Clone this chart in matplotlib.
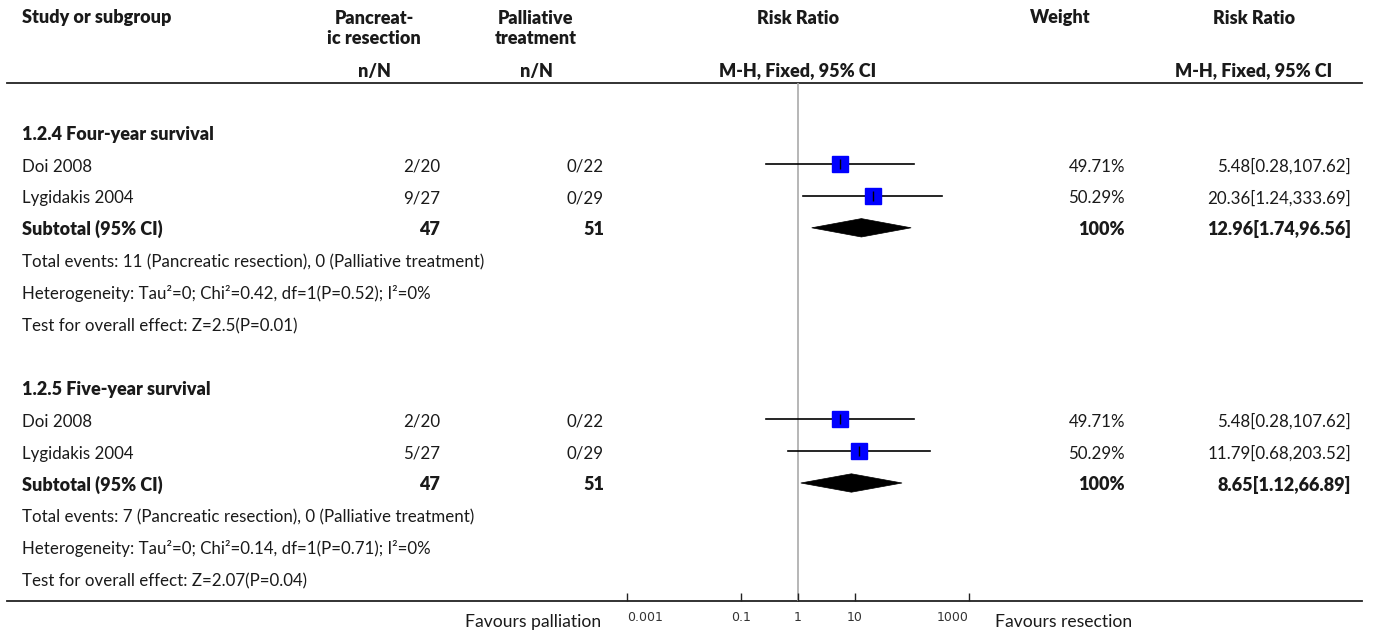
import matplotlib
matplotlib.use("Agg")
import matplotlib.pyplot as plt
from matplotlib.patches import Polygon

plt.rcParams['font.family'] = ['Lato', 'DejaVu Sans']

# ---------------- data ----------------
groups = ["1.2.4 Four-year survival", "1.2.5 Five-year survival"]
studies = [["Doi 2008", "Lygidakis 2004"], ["Doi 2008", "Lygidakis 2004"]]
resection = [["2/20", "9/27"], ["2/20", "5/27"]]
palliative = [["0/22", "0/29"], ["0/22", "0/29"]]
rr = [[5.48, 20.36], [5.48, 11.79]]
rr_lo = [[0.28, 1.24], [0.28, 0.68]]
rr_hi = [[107.62, 333.69], [107.62, 203.52]]
weights = [[49.71, 50.29], [49.71, 50.29]]
sub_n_res = ["47", "47"]
sub_n_pal = ["51", "51"]
sub_rr = [12.96, 8.65]
sub_lo = [1.74, 1.12]
sub_hi = [96.56, 66.89]
sub_weight = ["100%", "100%"]
total_events = ["Total events: 11 (Pancreatic resection), 0 (Palliative treatment)",
                "Total events: 7 (Pancreatic resection), 0 (Palliative treatment)"]
heterogeneity = ["Heterogeneity: Tau\u00b2=0; Chi\u00b2=0.42, df=1(P=0.52); I\u00b2=0%",
                 "Heterogeneity: Tau\u00b2=0; Chi\u00b2=0.14, df=1(P=0.71); I\u00b2=0%"]
overall = ["Test for overall effect: Z=2.5(P=0.01)",
           "Test for overall effect: Z=2.07(P=0.04)"]
xticks = [0.001, 0.1, 1, 10, 1000]
xtick_labels = ["0.001", "0.1", "1", "10", "1000"]

# ---------------- layout ----------------
W, H = 1375, 633
fig = plt.figure(figsize=(W / 100, H / 100), dpi=100)
tax = fig.add_axes([0, 0, 1, 1])
tax.set_xlim(0, W)
tax.set_ylim(H, 0)
tax.axis('off')

TXT = '#1a1a1a'
FS = 12.2
FSB = 13.0

def t(x, y, s, ha='left', bold=False, size=None, va='baseline'):
    if size is None:
        size = FSB if bold else FS
    tax.text(x, y, s, ha=ha, va=va, fontsize=size,
             fontweight='heavy' if bold else 'normal', color=TXT)

# header
t(22, 18, "Study or subgroup", bold=True, va='center')
t(374, 18, "Pancreat-", ha='center', bold=True, va='center')
t(374, 39, "ic resection", ha='center', bold=True, va='center')
t(536, 18, "Palliative", ha='center', bold=True, va='center')
t(536, 39, "treatment", ha='center', bold=True, va='center')
t(798, 18, "Risk Ratio", ha='center', bold=True, va='center')
t(1060, 18, "Weight", ha='center', bold=True, va='center')
t(1254, 18, "Risk Ratio", ha='center', bold=True, va='center')
t(374, 71, "n/N", ha='center', bold=True, va='center')
t(536, 71, "n/N", ha='center', bold=True, va='center')
t(798, 71, "M-H, Fixed, 95% CI", ha='center', bold=True, va='center')
t(1254, 71, "M-H, Fixed, 95% CI", ha='center', bold=True, va='center')
tax.plot([7, 1362], [83, 83], color='#222222', lw=1.3)
tax.plot([7, 1362], [601, 601], color='#222222', lw=1.3)

# forest axes (log scale)
fx0, fx1 = 627, 969
fy_top, fy_bot = 83, 601
fax = fig.add_axes([fx0 / W, (H - fy_bot) / H, (fx1 - fx0) / W, (fy_bot - fy_top) / H])
fax.set_xscale('log')
fax.set_xlim(0.001, 1000)
fax.set_ylim(fy_bot, fy_top)
fax.patch.set_alpha(0)
for s in ['top', 'left', 'right', 'bottom']:
    fax.spines[s].set_visible(False)
fax.set_yticks([])
fax.set_xticks(xticks)
fax.set_xticklabels(xtick_labels, fontfamily='DejaVu Sans')
fax.xaxis.set_minor_locator(matplotlib.ticker.NullLocator())
fax.tick_params(axis='x', direction='in', length=6, width=1, color='#222222',
                labelsize=9, labelcolor='#333333', pad=7)
labels = fax.get_xticklabels()
labels[0].set_horizontalalignment('left')
labels[-1].set_horizontalalignment('right')
fax.axvline(1, color='#aaaaaa', lw=1.2, zorder=1)

row0 = 164
step = 31.9
def rowy(k):
    return row0 + k * step

TOFF = 7.5
for g in range(2):
    base = 8 * g
    t(22, rowy(base - 1) + TOFF, groups[g], bold=True)
    for i in range(2):
        y = rowy(base + i)
        t(22, y + TOFF, studies[g][i])
        t(440, y + TOFF, resection[g][i], ha='right')
        t(604, y + TOFF, palliative[g][i], ha='right')
        t(1125, y + TOFF, f"{weights[g][i]:.2f}%", ha='right')
        t(1351, y + TOFF, f"{rr[g][i]:.2f}[{rr_lo[g][i]:.2f},{rr_hi[g][i]:.2f}]", ha='right')
        fax.plot([rr_lo[g][i], rr_hi[g][i]], [y, y], color='black', lw=1.2, zorder=2)
        ms = 11.6 * (weights[g][i] / 49.71) ** 0.5
        fax.plot([rr[g][i]], [y], marker='s', ms=ms, mfc='#0000ff', mec='#0000ff', zorder=3)
        fax.plot([rr[g][i]], [y], marker='|', ms=6.5, mec='black', mew=1.0, zorder=4)
    ys = rowy(base + 2)
    t(22, ys + TOFF, "Subtotal (95% CI)", bold=True)
    t(440, ys + TOFF, sub_n_res[g], ha='right', bold=True)
    t(604, ys + TOFF, sub_n_pal[g], ha='right', bold=True)
    t(1125, ys + TOFF, sub_weight[g], ha='right', bold=True)
    t(1351, ys + TOFF, f"{sub_rr[g]:.2f}[{sub_lo[g]:.2f},{sub_hi[g]:.2f}]", ha='right', bold=True)
    dh = 9.2
    poly = Polygon([(sub_lo[g], ys), (sub_rr[g], ys - dh), (sub_hi[g], ys), (sub_rr[g], ys + dh)],
                   closed=True, facecolor='black', edgecolor='black', lw=0.5, zorder=3)
    fax.add_patch(poly)
    t(22, rowy(base + 3) + TOFF, total_events[g])
    t(22, rowy(base + 4) + TOFF, heterogeneity[g])
    t(22, rowy(base + 5) + TOFF, overall[g])

t(601, 627, "Favours palliation", ha='right', size=12.6)
t(995, 627, "Favours resection", size=12.6)

fig.savefig("out.png", dpi=100)
